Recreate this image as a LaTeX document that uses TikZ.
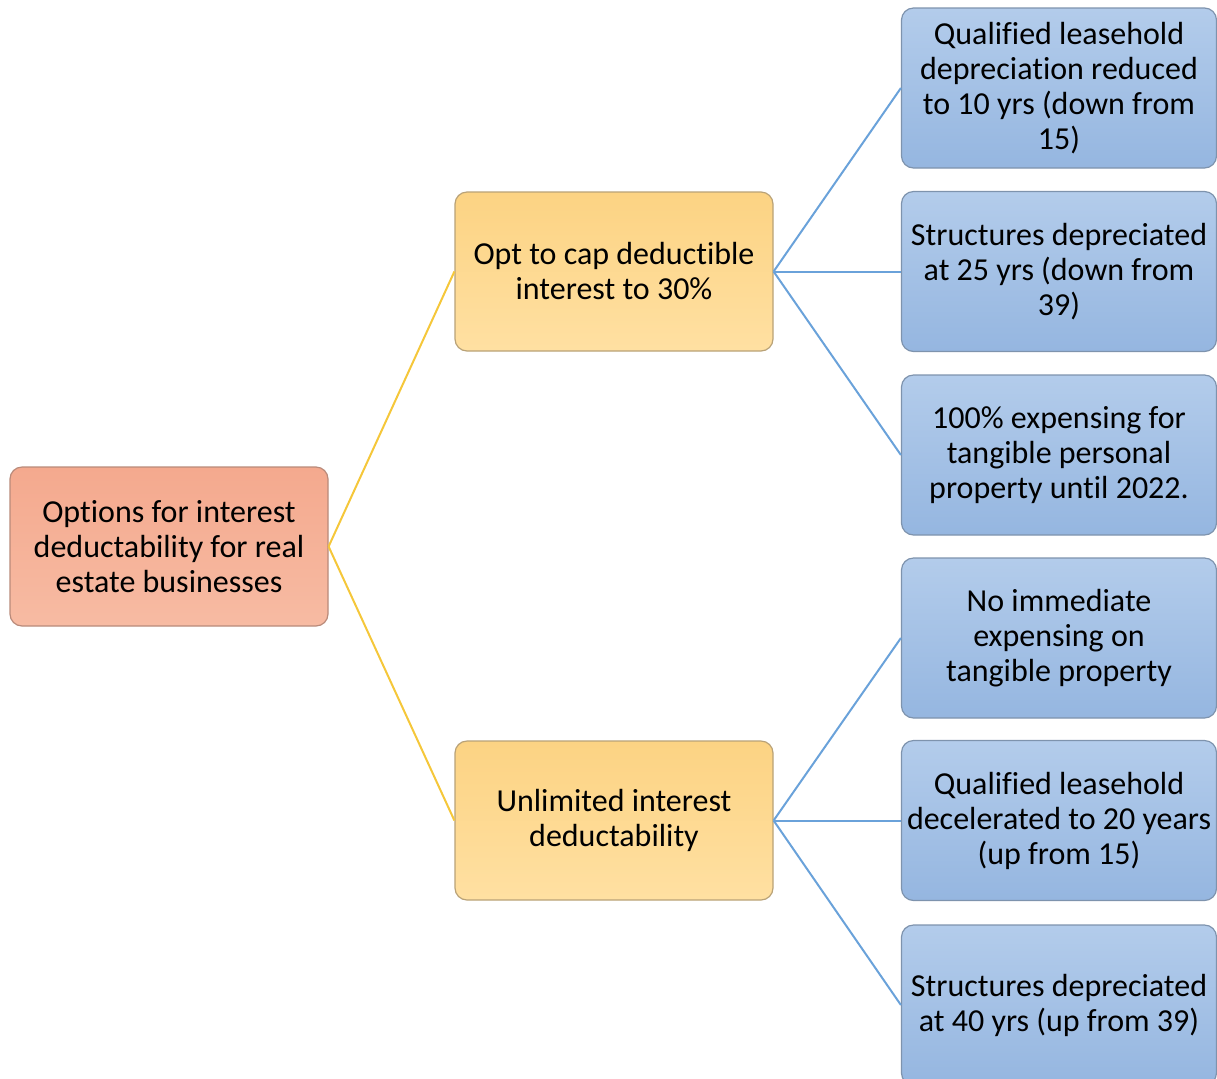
\documentclass[tikz,border=0pt]{standalone}
\usepackage{fontspec}
\setmainfont{Carlito}[Ligatures=NoCommon]
\usetikzlibrary{shapes}

\definecolor{roottop}{HTML}{F4A98E}
\definecolor{rootbot}{HTML}{F7BBA3}
\definecolor{rootline}{HTML}{B98A7A}
\definecolor{midtop}{HTML}{FCD383}
\definecolor{midbot}{HTML}{FFE0A2}
\definecolor{midline}{HTML}{B9A277}
\definecolor{leaftop}{HTML}{B3CCEB}
\definecolor{leafbot}{HTML}{95B6E0}
\definecolor{leafline}{HTML}{7E93AD}
\definecolor{yline}{HTML}{F5C73A}
\definecolor{bline}{HTML}{6AA2DA}

\begin{document}
\begin{tikzpicture}[x=0.5pt,y=-0.5pt,
    box/.style={shape=rectangle,rounded corners=6pt,align=center,line width=0.6pt,
        font=\fontsize{16}{17.5}\selectfont,minimum height=79.5pt,inner sep=2pt},
    rootbox/.style={box,draw=rootline,top color=roottop,bottom color=rootbot,minimum width=159pt},
    midbox/.style={box,draw=midline,top color=midtop,bottom color=midbot,minimum width=159pt},
    leafbox/.style={box,draw=leafline,top color=leaftop,bottom color=leafbot,minimum width=157.5pt,minimum height=80pt},
    yedge/.style={draw=yline,line width=1pt},
    bedge/.style={draw=bline,line width=1pt}]
                \useasboundingbox (0,0) rectangle (1217,1078);
                \clip (0,0) rectangle (1217,1078);
                \node[rootbox](root)at(169, 546.5){Options for interest\\deductability for real\\estate businesses};
                \node[midbox](cap)at(614, 271.5){Opt to cap deductible\\interest to 30\%};
                \node[midbox](unl)at(614, 820.5){Unlimited interest\\deductability};
                \node[leafbox](q10)at(1059, 88){Qualified leasehold\\depreciation reduced\\to 10 yrs (down from\\15)};
                \node[leafbox](s25)at(1059, 271.5){Structures depreciated\\at 25 yrs (down from\\39)};
                \node[leafbox](exp)at(1059, 455){100\% expensing for\\tangible personal\\property until 2022.};
                \node[leafbox](noexp)at(1059, 638){No immediate\\expensing on\\tangible property};
                \node[leafbox](q20)at(1059, 820.5){Qualified leasehold\\decelerated to 20 years\\(up from 15)};
                \node[leafbox](s40)at(1059, 1005){Structures depreciated\\at 40 yrs (up from 39)};
                \path[yedge](root.east) edge (cap.west)
                (root.east) edge (unl.west);
                \path[bedge](cap.east) edge (q10.west)
                (cap.east) edge (s25.west)
                (cap.east) edge (exp.west)
                (unl.east) edge (noexp.west)
                (unl.east) edge (q20.west)
                (unl.east) edge (s40.west);
            \end{tikzpicture}
\end{document}
